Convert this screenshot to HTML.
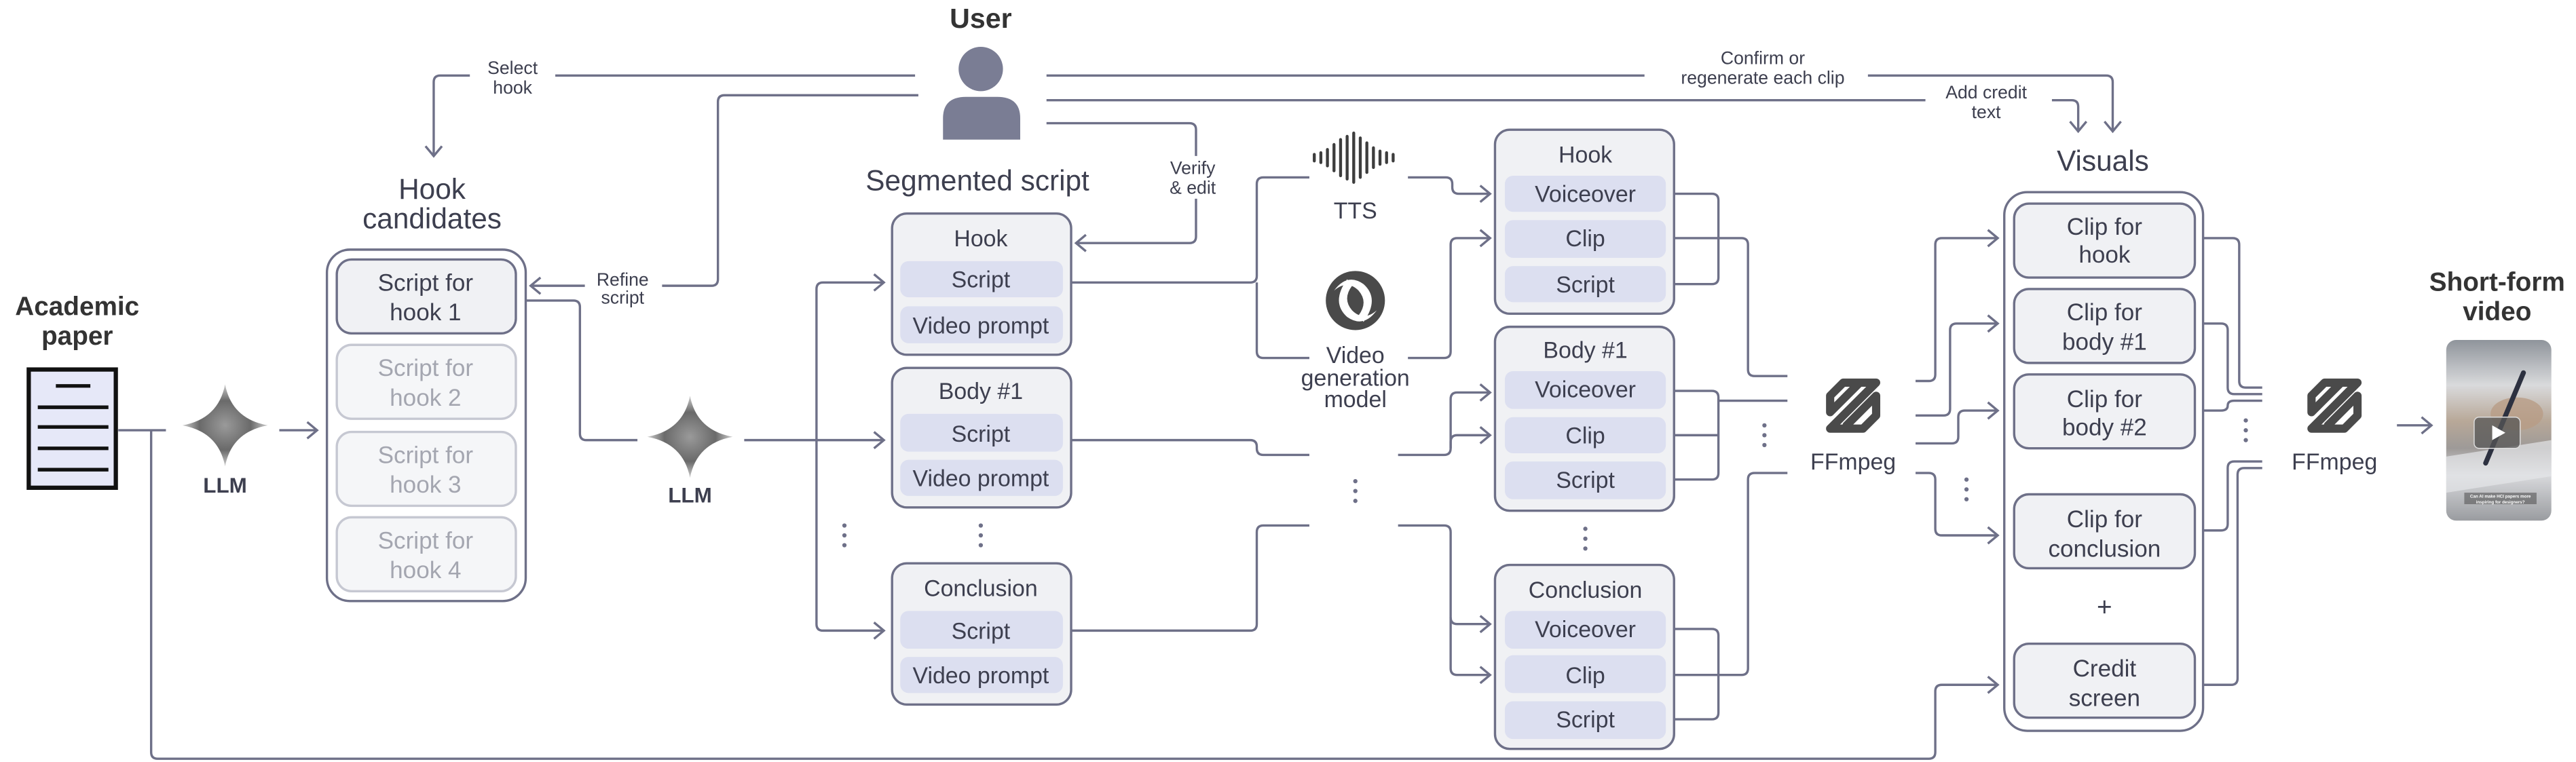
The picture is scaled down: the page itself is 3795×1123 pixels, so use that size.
<!DOCTYPE html>
<html><head><meta charset="utf-8"><style>
html,body{margin:0;padding:0;background:#fff;}
svg{display:block;}
text{font-family:"Liberation Sans",Arial,sans-serif;}
</style></head><body>
<svg width="3795" height="1123" viewBox="0 0 1568 464" preserveAspectRatio="none" xmlns="http://www.w3.org/2000/svg">
<defs>
<marker id="a" markerUnits="userSpaceOnUse" markerWidth="12" markerHeight="12" refX="7" refY="6" orient="auto">
<path d="M1,1 L7,6 L1,11" fill="none" stroke="#6e7088" stroke-width="1.4"/>
</marker>
<radialGradient id="sg" cx="0.5" cy="0.5" r="0.5">
<stop offset="0" stop-color="#9a9a9a"/><stop offset="0.6" stop-color="#6a6a6a"/><stop offset="1" stop-color="#cfcfcf"/>
</radialGradient>
<linearGradient id="vg" x1="0" y1="0" x2="0" y2="1">
<stop offset="0" stop-color="#8f949b"/><stop offset="0.25" stop-color="#d9dadc"/><stop offset="0.45" stop-color="#b8a898"/><stop offset="0.6" stop-color="#9e9a98"/><stop offset="0.75" stop-color="#d8d9dc"/><stop offset="1" stop-color="#9a9ca0"/>
</linearGradient>
<g id="star"><path d="M0,-25 Q4,-4 26,0 Q4,4 0,25 Q-4,4 -26,0 Q-4,-4 0,-25Z" fill="url(#sg)"/></g>
<g id="ff"><path d="M4,12 L12,4 H32 L4,32 H24 L32,24 V12 L14,30 M4,12 V22 L22,4" fill="none" stroke="#4a4a4a" stroke-width="5" stroke-linejoin="round" stroke-linecap="round"/></g>
</defs>

<g fill="none" stroke="#6e7088" stroke-width="1.4">
<path d="M72,262 H101"/>
<path d="M92,262 V458 Q92,462 96,462 H1174 Q1178,462 1178,458 V421 Q1178,417 1182,417 H1216" marker-end="url(#a)"/>
<path d="M170,262 H193" marker-end="url(#a)"/>
<path d="M314,183 H349 Q353,183 353,187 V264 Q353,268 357,268 H388"/>
<path d="M453,268 H538" marker-end="url(#a)"/>
<path d="M497,268 V176 Q497,172 501,172 H538" marker-end="url(#a)"/>
<path d="M497,268 V380 Q497,384 501,384 H538" marker-end="url(#a)"/>
<path d="M557,46 H338"/>
<path d="M286,46 H268 Q264,46 264,50 V95" marker-end="url(#a)"/>
<path d="M559,58 H441 Q437,58 437,62 V170 Q437,174 433,174 H403"/>
<path d="M356,174 H323" marker-end="url(#a)"/>
<path d="M637,75 H724 Q728,75 728,79 V95"/>
<path d="M728,121 V144 Q728,148 724,148 H655" marker-end="url(#a)"/>
<path d="M637,46 H1001"/>
<path d="M1137,46 H1282 Q1286,46 1286,50 V80" marker-end="url(#a)"/>
<path d="M637,61 H1172"/>
<path d="M1249,61 H1261 Q1265,61 1265,65 V80" marker-end="url(#a)"/>
<path d="M652,172 H761 Q765,172 765,168 V112 Q765,108 769,108 H797"/>
<path d="M765,172 V214 Q765,218 769,218 H797"/>
<path d="M857,108 H880 Q884,108 884,112 V114 Q884,118 888,118 H907" marker-end="url(#a)"/>
<path d="M857,218 H879 Q883,218 883,214 V149 Q883,145 887,145 H907" marker-end="url(#a)"/>
<path d="M652,268 H761 Q765,268 765,272 V273 Q765,277 769,277 H797"/>
<path d="M851,277 H879 Q883,277 883,273 V243 Q883,239 887,239 H907" marker-end="url(#a)"/>
<path d="M883,273 V269 Q883,265 887,265 H907" marker-end="url(#a)"/>
<path d="M652,384 H761 Q765,384 765,380 V324 Q765,320 769,320 H797"/>
<path d="M851,320 H879 Q883,320 883,324 V376 Q883,380 887,380 H907" marker-end="url(#a)"/>
<path d="M883,376 V407 Q883,411 887,411 H907" marker-end="url(#a)"/>
<path d="M1014,118 H1042 Q1046,118 1046,122 V169 Q1046,173 1042,173 H1014"/>
<path d="M1014,145 H1060 Q1064,145 1064,149 V225 Q1064,229 1068,229 H1088"/>
<path d="M1014,238 H1042 Q1046,238 1046,242 V288 Q1046,292 1042,292 H1014"/>
<path d="M1014,265 H1046 M1046,244 H1088"/>
<path d="M1014,383 H1042 Q1046,383 1046,387 V434 Q1046,438 1042,438 H1014"/>
<path d="M1014,411 H1060 Q1064,411 1064,407 V292 Q1064,288 1068,288 H1088"/>
<path d="M1166,232 H1174 Q1178,232 1178,228 V149 Q1178,145 1182,145 H1216" marker-end="url(#a)"/>
<path d="M1166,253 H1183 Q1187,253 1187,249 V201 Q1187,197 1191,197 H1216" marker-end="url(#a)"/>
<path d="M1166,270 H1188 Q1192,270 1192,266 V254 Q1192,250 1196,250 H1216" marker-end="url(#a)"/>
<path d="M1166,288 H1174 Q1178,288 1178,292 V322 Q1178,326 1182,326 H1216" marker-end="url(#a)"/>
<path d="M1336,145 H1359 Q1363,145 1363,149 V232 Q1363,236 1367,236 H1377"/>
<path d="M1336,197 H1352 Q1356,197 1356,201 V236 Q1356,240 1360,240 H1377"/>
<path d="M1336,250 H1352 Q1356,250 1356,247 Q1356,244 1360,244 H1377"/>
<path d="M1336,323 H1352 Q1356,323 1356,319 V285 Q1356,281 1360,281 H1377"/>
<path d="M1336,417 H1358 Q1362,417 1362,413 V289 Q1362,285 1366,285 H1377"/>
<path d="M1459,259 H1480" marker-end="url(#a)"/>
</g>

<g fill="#6e7088">
<circle cx="514" cy="320" r="1.3"/><circle cx="514" cy="326" r="1.3"/><circle cx="514" cy="332" r="1.3"/>
<circle cx="597" cy="320" r="1.3"/><circle cx="597" cy="326" r="1.3"/><circle cx="597" cy="332" r="1.3"/>
<circle cx="825" cy="293" r="1.3"/><circle cx="825" cy="299" r="1.3"/><circle cx="825" cy="305" r="1.3"/>
<circle cx="965" cy="322" r="1.3"/><circle cx="965" cy="328" r="1.3"/><circle cx="965" cy="334" r="1.3"/>
<circle cx="1074" cy="259" r="1.3"/><circle cx="1074" cy="265" r="1.3"/><circle cx="1074" cy="271" r="1.3"/>
<circle cx="1197" cy="292" r="1.3"/><circle cx="1197" cy="298" r="1.3"/><circle cx="1197" cy="304" r="1.3"/>
<circle cx="1280" cy="282" r="1.3"/><circle cx="1280" cy="288" r="1.3"/><circle cx="1280" cy="294" r="1.3"/>
<circle cx="1367" cy="256" r="1.3"/><circle cx="1367" cy="262" r="1.3"/><circle cx="1367" cy="268" r="1.3"/>
</g>

<text x="47" y="192" font-size="16" font-weight="bold" fill="#333" text-anchor="middle">Academic</text>
<text x="47" y="210" font-size="16" font-weight="bold" fill="#333" text-anchor="middle">paper</text>
<rect x="17.5" y="225" width="53" height="72" fill="#e6e8f8" stroke="#111" stroke-width="2.6"/>
<g stroke="#111" stroke-width="2.2">
<path d="M34,235 H55 M23,248 H66 M23,260 H66 M23,273 H66 M23,286 H66"/>
</g>

<use href="#star" x="137" y="259"/>
<text x="137" y="300" font-size="13" font-weight="bold" fill="#3d3f4f" text-anchor="middle">LLM</text>
<use href="#star" x="420" y="266"/>
<text x="420" y="306" font-size="13" font-weight="bold" fill="#3d3f4f" text-anchor="middle">LLM</text>

<text x="263" y="121" font-size="17.5" fill="#3d3f4f" text-anchor="middle">Hook</text>
<text x="263" y="139" font-size="17.5" fill="#3d3f4f" text-anchor="middle">candidates</text>
<rect x="199" y="152" width="121" height="214" rx="14" fill="#fff" stroke="#6e7088" stroke-width="1.4"/>
<rect x="205" y="158" width="109" height="45" rx="9" fill="#f0f1f4" stroke="#6e7088" stroke-width="1.4"/>
<text x="259" y="177" font-size="14.5" fill="#3d3f4f" text-anchor="middle">Script for</text>
<text x="259" y="195" font-size="14.5" fill="#3d3f4f" text-anchor="middle">hook 1</text>
<g fill="#f5f6f8" stroke="#c6c8d2" stroke-width="1.4">
<rect x="205" y="210" width="109" height="45" rx="9"/>
<rect x="205" y="263" width="109" height="45" rx="9"/>
<rect x="205" y="315" width="109" height="45" rx="9"/>
</g>
<g font-size="14.5" fill="#a4a6b0" text-anchor="middle">
<text x="259" y="229">Script for</text><text x="259" y="247">hook 2</text>
<text x="259" y="282">Script for</text><text x="259" y="300">hook 3</text>
<text x="259" y="334">Script for</text><text x="259" y="352">hook 4</text>
</g>

<g font-size="11" fill="#3d3f4f" text-anchor="middle">
<text x="312" y="45">Select</text><text x="312" y="57">hook</text>
<text x="379" y="174">Refine</text><text x="379" y="185">script</text>
<text x="726" y="106">Verify</text><text x="726" y="118">&amp; edit</text>
<text x="1073" y="39">Confirm or</text><text x="1073" y="51">regenerate each clip</text>
<text x="1209" y="60">Add credit</text><text x="1209" y="72">text</text>
</g>

<text x="597" y="17" font-size="17" font-weight="bold" fill="#333" text-anchor="middle">User</text>
<circle cx="597" cy="42" r="13.5" fill="#7a7d94"/>
<path d="M574,85 V72 Q574,59 588,59 H607 Q621,59 621,72 V85 Z" fill="#7a7d94"/>

<text x="595" y="116" font-size="17.5" fill="#3d3f4f" text-anchor="middle">Segmented script</text>
<g fill="#f0f1f4" stroke="#6e7088" stroke-width="1.4">
<rect x="543" y="130" width="109" height="86" rx="9"/>
<rect x="543" y="224" width="109" height="85" rx="9"/>
<rect x="543" y="343" width="109" height="86" rx="9"/>
</g>
<g fill="#dcdff0">
<rect x="548" y="159" width="99" height="22" rx="5"/><rect x="548" y="186.5" width="99" height="22.5" rx="5"/>
<rect x="548" y="252" width="99" height="23" rx="5"/><rect x="548" y="280" width="99" height="22" rx="5"/>
<rect x="548" y="372" width="99" height="23" rx="5"/><rect x="548" y="400" width="99" height="22" rx="5"/>
</g>
<g font-size="14" fill="#3d3f4f" text-anchor="middle">
<text x="597" y="150">Hook</text><text x="597" y="175">Script</text><text x="597" y="203">Video prompt</text>
<text x="597" y="243">Body #1</text><text x="597" y="269">Script</text><text x="597" y="296">Video prompt</text>
<text x="597" y="363">Conclusion</text><text x="597" y="389">Script</text><text x="597" y="416">Video prompt</text>
</g>

<g stroke="#3d3d3d" stroke-width="1.8" stroke-linecap="round">
<path d="M800,94 V98 M804,93 V99 M808,91 V101 M812,88 V104 M816,85 V107 M820,83 V109 M824,81 V111 M828,84 V108 M832,87 V105 M836,90 V102 M840,92 V100 M844,93 V99 M848,94 V98"/>
</g>
<text x="825" y="133" font-size="14" fill="#3d3f4f" text-anchor="middle">TTS</text>
<circle cx="825" cy="183" r="18" fill="#4a4a4a"/>
<path d="M820,170 Q810,184 820,193 Q830,200 838,189 Q830,196 823,189 Q817,182 823,174 Z" fill="#fff"/>
<path d="M830,196 Q840,182 830,173 Q820,166 812,177 Q820,170 827,177 Q833,184 827,192 Z" fill="#fff"/>
<text x="825" y="221" font-size="14" fill="#3d3f4f" text-anchor="middle">Video</text>
<text x="825" y="235" font-size="14" fill="#3d3f4f" text-anchor="middle">generation</text>
<text x="825" y="248" font-size="14" fill="#3d3f4f" text-anchor="middle">model</text>

<g fill="#f0f1f4" stroke="#6e7088" stroke-width="1.4">
<rect x="910" y="79" width="109" height="112" rx="9"/>
<rect x="910" y="199" width="109" height="112" rx="9"/>
<rect x="910" y="344" width="109" height="112" rx="9"/>
</g>
<g fill="#dcdff0">
<rect x="916" y="107" width="98" height="22" rx="5"/><rect x="916" y="134" width="98" height="23" rx="5"/><rect x="916" y="162" width="98" height="22" rx="5"/>
<rect x="916" y="226" width="98" height="23" rx="5"/><rect x="916" y="254" width="98" height="22" rx="5"/><rect x="916" y="281" width="98" height="23" rx="5"/>
<rect x="916" y="372" width="98" height="23" rx="5"/><rect x="916" y="399" width="98" height="23" rx="5"/><rect x="916" y="427" width="98" height="23" rx="5"/>
</g>
<g font-size="14" fill="#3d3f4f" text-anchor="middle">
<text x="965" y="99">Hook</text><text x="965" y="123">Voiceover</text><text x="965" y="150">Clip</text><text x="965" y="178">Script</text>
<text x="965" y="218">Body #1</text><text x="965" y="242">Voiceover</text><text x="965" y="270">Clip</text><text x="965" y="297">Script</text>
<text x="965" y="364">Conclusion</text><text x="965" y="388">Voiceover</text><text x="965" y="416">Clip</text><text x="965" y="443">Script</text>
</g>

<use href="#ff" x="1110" y="229"/>
<text x="1128" y="286" font-size="14" fill="#3d3f4f" text-anchor="middle">FFmpeg</text>
<use href="#ff" x="1403" y="229"/>
<text x="1421" y="286" font-size="14" fill="#3d3f4f" text-anchor="middle">FFmpeg</text>

<text x="1280" y="104" font-size="17.5" fill="#3d3f4f" text-anchor="middle">Visuals</text>
<rect x="1220" y="117" width="121" height="328" rx="14" fill="#fff" stroke="#6e7088" stroke-width="1.4"/>
<g fill="#f0f1f4" stroke="#6e7088" stroke-width="1.4">
<rect x="1226" y="124" width="110" height="45" rx="9"/>
<rect x="1226" y="176" width="110" height="45" rx="9"/>
<rect x="1226" y="228" width="110" height="45" rx="9"/>
<rect x="1226" y="301" width="110" height="45" rx="9"/>
<rect x="1226" y="392" width="110" height="45" rx="9"/>
</g>
<g font-size="14.5" fill="#3d3f4f" text-anchor="middle">
<text x="1281" y="143">Clip for</text><text x="1281" y="160">hook</text>
<text x="1281" y="195">Clip for</text><text x="1281" y="213">body #1</text>
<text x="1281" y="248">Clip for</text><text x="1281" y="265">body #2</text>
<text x="1281" y="321">Clip for</text><text x="1281" y="339">conclusion</text>
<text x="1281" y="375" font-size="16">+</text>
<text x="1281" y="412">Credit</text><text x="1281" y="430">screen</text>
</g>

<text x="1520" y="177" font-size="16" font-weight="bold" fill="#333" text-anchor="middle">Short-form</text>
<text x="1520" y="195" font-size="16" font-weight="bold" fill="#333" text-anchor="middle">video</text>
<rect x="1489" y="207" width="64" height="110" rx="6" fill="url(#vg)"/>
<path d="M1489,278 L1553,268 V290 L1489,300 Z" fill="#e4e5e8" fill-opacity="0.7"/>
<ellipse cx="1532" cy="252" rx="16" ry="10" fill="#b89c86" fill-opacity="0.8"/>
<path d="M1536,227 L1513,282" stroke="#2d3140" stroke-width="3" stroke-linecap="round"/>
<rect x="1506" y="254" width="28" height="19" rx="3" fill="#555" fill-opacity="0.75" stroke="#ddd" stroke-width="0.6"/>
<path d="M1517,259 L1525,263.5 L1517,268 Z" fill="#fff"/>
<rect x="1500" y="300" width="44" height="7" fill="#555" fill-opacity="0.6"/>
<text x="1522" y="303" font-size="2.6" fill="#fff" text-anchor="middle" font-weight="bold">Can AI make HCI papers more</text>
<text x="1522" y="306.5" font-size="2.6" fill="#fff" text-anchor="middle" font-weight="bold">inspiring for designers?</text>
</svg>
</body></html>
